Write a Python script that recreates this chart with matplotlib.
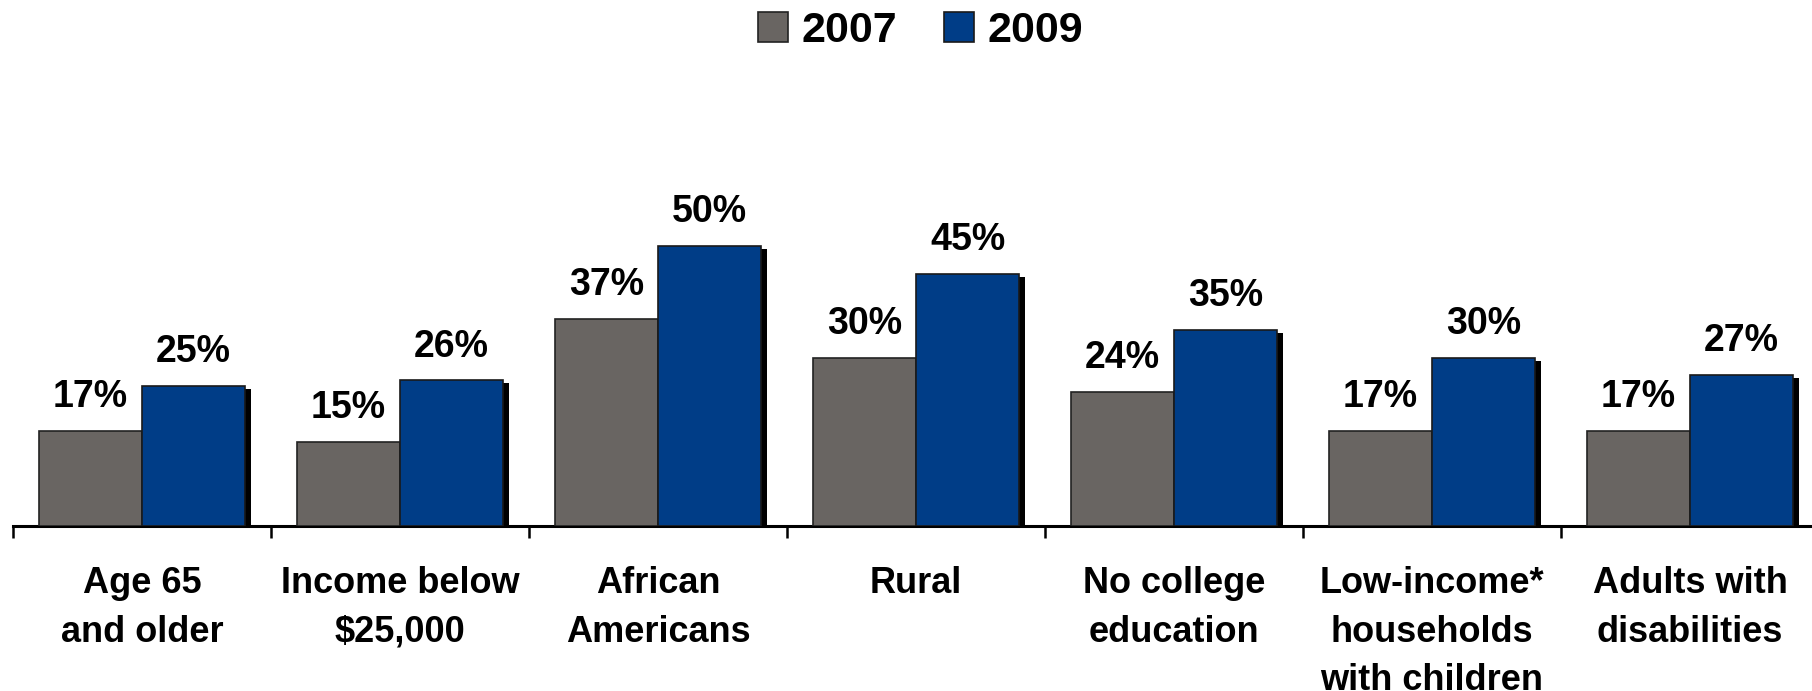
import numpy as np
import matplotlib
matplotlib.use('Agg')
import matplotlib.pyplot as plt
import matplotlib.patheffects as pe
from matplotlib.patches import Patch

plt.rcParams['font.family'] = ['Liberation Sans', 'DejaVu Sans']
plt.rcParams['font.weight'] = 'bold'

categories = ['Age 65\nand older', 'Income below\n$25,000', 'African\nAmericans', 'Rural',
              'No college\neducation', 'Low-income*\nhouseholds\nwith children', 'Adults with\ndisabilities']
share_2007 = [17, 15, 37, 30, 24, 17, 17]
share_2009 = [25, 26, 50, 45, 35, 30, 27]

gray = '#696562'
blue = '#003d87'

fig = plt.figure(figsize=(18.12, 6.91), dpi=100)
ax = fig.add_axes([13 / 1812, 165 / 691, 1806 / 1812, 336 / 691])

x = np.arange(len(categories))
w = 0.4
b1 = ax.bar(x - w / 2, share_2007, w, color=gray, edgecolor='#222222', linewidth=1.2, zorder=2)
b2 = ax.bar(x + w / 2, share_2009, w, color=blue, edgecolor='#1a1a1a', linewidth=1.2, zorder=3)
for bar in b2:
    bar.set_path_effects([pe.SimplePatchShadow(offset=(4.3, -2.2), shadow_rgbFace='black', alpha=1.0), pe.Normal()])

for bars, vals in ((b1, share_2007), (b2, share_2009)):
    for bar, v in zip(bars, vals):
        ax.annotate(f'{v}%', (bar.get_x() + bar.get_width() / 2, v), xytext=(0, 17),
                    textcoords='offset points', ha='center', va='baseline', fontsize=27, fontweight='bold')

ax.set_xlim(-0.5, len(categories) - 0.5)
ax.set_ylim(0, 60)
for s in ['top', 'right', 'left']:
    ax.spines[s].set_visible(False)
ax.spines['bottom'].set_linewidth(2.2)
ax.spines['bottom'].set_zorder(1)
ax.set_yticks([])

ax.set_xticks(np.arange(len(categories) + 1) - 0.5)
ax.set_xticklabels([])
ax.tick_params(axis='x', which='major', direction='out', length=8.6, width=1.8)
ax.set_xticks(x, minor=True)
ax.set_xticklabels(categories, minor=True, fontsize=26, fontweight='bold', linespacing=1.5)
ax.tick_params(axis='x', which='minor', length=0, pad=29)

handles = [Patch(facecolor=gray, edgecolor='#222222', linewidth=1.2, label='2007'),
           Patch(facecolor=blue, edgecolor='#1a1a1a', linewidth=1.2, label='2009')]
fig.legend(handles=handles, loc='upper center', bbox_to_anchor=(0.508, 1.04), ncol=2, frameon=False,
           prop={'size': 31, 'weight': 'bold'}, handlelength=0.7, handleheight=0.7,
           handletextpad=0.3, columnspacing=1.1)

fig.savefig('out.png', dpi=100)
